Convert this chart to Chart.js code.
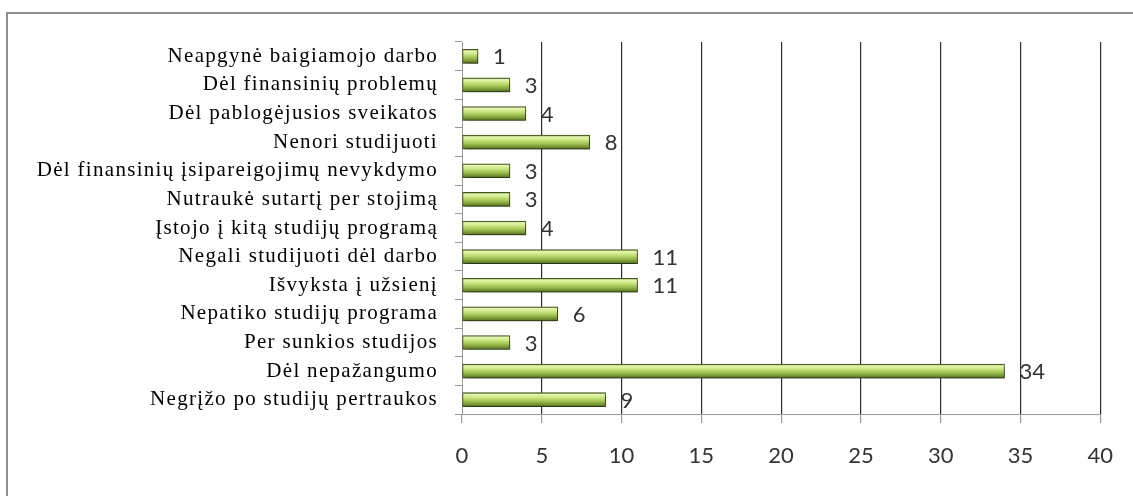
<!DOCTYPE html>
<html>
<head>
<meta charset="utf-8">
<script src="https://cdn.jsdelivr.net/npm/chart.js@4/dist/chart.umd.min.js"></script>
<style>
  html, body { margin: 0; padding: 0; background: #fff; }
  #wrap { position: relative; width: 1133px; height: 496px; overflow: hidden; }
  #frame {
    position: absolute; left: 6px; top: 12px; width: 1300px; height: 700px;
    border-top: 2px solid #8e8e8e; border-left: 2px solid #8e8e8e;
  }
  #chart { position: absolute; left: 0; top: 0; }
</style>
</head>
<body>
<div id="wrap">
  <div id="frame"></div>
  <canvas id="chart" width="1133" height="496"></canvas>
</div>
<script>
  var reasons = [
    "Neapgynė baigiamojo darbo",
    "Dėl finansinių problemų",
    "Dėl pablogėjusios sveikatos",
    "Nenori studijuoti",
    "Dėl finansinių įsipareigojimų nevykdymo",
    "Nutraukė sutartį per stojimą",
    "Įstojo į kitą studijų programą",
    "Negali studijuoti dėl darbo",
    "Išvyksta į užsienį",
    "Nepatiko studijų programa",
    "Per sunkios studijos",
    "Dėl nepažangumo",
    "Negrįžo po studijų pertraukos"
  ];
  var counts = [1, 3, 4, 8, 3, 3, 4, 11, 11, 6, 3, 34, 9];
  var xTicks = [0, 5, 10, 15, 20, 25, 30, 35, 40];

  var BAR_PX = 14;
  var LABEL_SPACING = "1.3px";

  // category axis whose labels get a bit of letter spacing
  class SpacedCategoryScale extends Chart.CategoryScale {
    drawLabels(area) {
      var ctx = this.ctx;
      ctx.save();
      ctx.letterSpacing = LABEL_SPACING;
      super.drawLabels(area);
      ctx.restore();
    }
  }
  SpacedCategoryScale.id = "spacedCategory";
  SpacedCategoryScale.defaults = Chart.CategoryScale.defaults;
  Chart.register(SpacedCategoryScale);

  // rounded-looking green bar: dark rim, bright band near the top, darker underside
  function barFill(c) {
    var chart = c.chart;
    if (!chart.chartArea) return "#9bbb59";
    var y = chart.scales.y.getPixelForValue(c.dataIndex);
    var h = BAR_PX / 2;
    var g = chart.ctx.createLinearGradient(0, y - h, 0, y + h);
    g.addColorStop(0, "#4f6a22");
    g.addColorStop(0.12, "#e6f6b4");
    g.addColorStop(0.3, "#d2ea8a");
    g.addColorStop(0.55, "#aacb5c");
    g.addColorStop(0.8, "#7d9c38");
    g.addColorStop(1, "#4e6623");
    return g;
  }

  var barShadow = {
    id: "barShadow",
    beforeDatasetDraw: function (chart) {
      var ctx = chart.ctx;
      ctx.save();
      ctx.shadowColor = "rgba(0,0,0,0.45)";
      ctx.shadowBlur = 5;
      ctx.shadowOffsetX = 2;
      ctx.shadowOffsetY = 3;
    },
    afterDatasetDraw: function (chart) {
      chart.ctx.restore();
    }
  };

  var valueLabels = {
    id: "valueLabels",
    afterDatasetsDraw: function (chart) {
      var ctx = chart.ctx;
      var meta = chart.getDatasetMeta(0);
      ctx.save();
      ctx.font = "22px Lato";
      ctx.fillStyle = "#333";
      ctx.textAlign = "left";
      ctx.textBaseline = "middle";
      meta.data.forEach(function (bar, i) {
        ctx.fillText(String(counts[i]), bar.x + 15, bar.y + 1);
      });
      ctx.restore();
    }
  };

  new Chart(document.getElementById("chart"), {
    type: "bar",
    data: {
      labels: reasons,
      datasets: [{
        data: counts,
        backgroundColor: barFill,
        borderColor: "#45591d",
        borderWidth: 1,
        borderSkipped: false,
        barThickness: BAR_PX,
        categoryPercentage: 1
      }]
    },
    options: {
      indexAxis: "y",
      responsive: false,
      animation: false,
      layout: { padding: { top: 42, right: 30, left: 0, bottom: 0 } },
      plugins: {
        legend: { display: false },
        tooltip: { enabled: false }
      },
      scales: {
        x: {
          type: "linear",
          min: 0,
          max: 40,
          afterBuildTicks: function (scale) {
            scale.ticks = xTicks.map(function (v) { return { value: v }; });
          },
          afterFit: function (scale) { scale.height = 82; },
          grid: {
            color: function (c) { return c.tick && c.tick.value === 0 ? "rgba(0,0,0,0)" : "#2e2e2e"; },
            tickColor: "#9a9a9a",
            tickLength: 9,
            lineWidth: 1.2
          },
          border: { color: "#9a9a9a", width: 1 },
          ticks: {
            padding: 20,
            color: "#333",
            font: { family: "Lato", size: 22 }
          }
        },
        y: {
          type: "spacedCategory",
          offset: true,
          afterFit: function (scale) { scale.width = 462; },
          grid: {
            offset: true,
            drawOnChartArea: false,
            tickColor: "#9a9a9a",
            tickLength: 7
          },
          border: { color: "#9a9a9a", width: 1 },
          ticks: {
            padding: 17,
            color: "#000",
            autoSkip: false,
            font: { family: "Liberation Serif", size: 21 }
          }
        }
      }
    },
    plugins: [barShadow, valueLabels]
  });
</script>
</body>
</html>
